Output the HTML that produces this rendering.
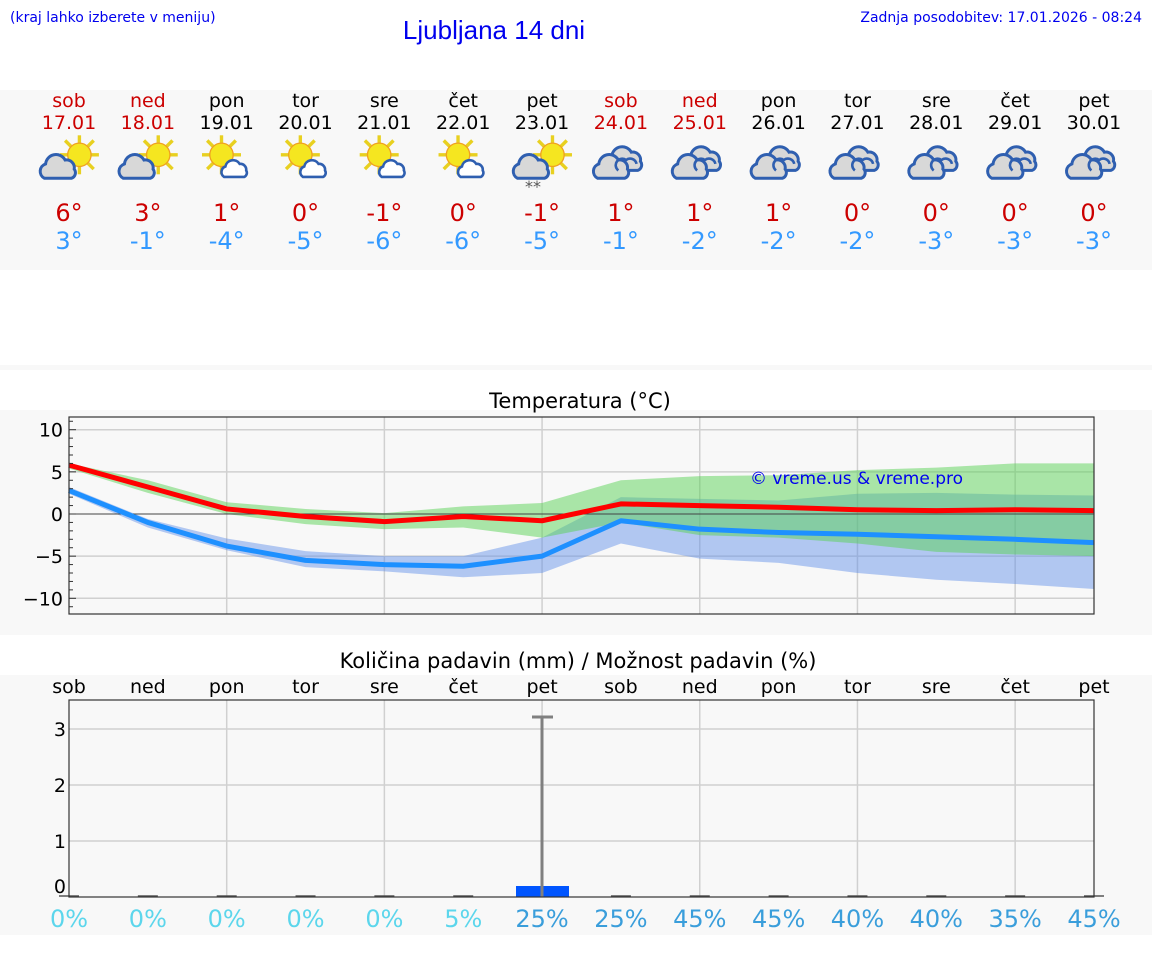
<!DOCTYPE html>
<html><head><meta charset="utf-8"><style>
body{margin:0;background:#fff;width:1152px;height:975px;overflow:hidden;font-family:"Liberation Sans","DejaVu Sans",sans-serif}
svg text{font-family:"DejaVu Sans","Liberation Sans",sans-serif}
</style></head><body>
<svg id="s" width="1152" height="975" xmlns="http://www.w3.org/2000/svg">
<defs>
<g id="cl"><path d="M-14,9 a6,6 0 0 1 1,-11 a8,8 0 0 1 15,-3 a6,6 0 0 1 7,7 a4.5,4.5 0 0 1 -2,7 z" fill="#d8d8d8" stroke="#2f5fb0" stroke-width="2.3"/></g>
<g id="clw"><path d="M-10,6 a4.5,4.5 0 0 1 1,-8 a6,6 0 0 1 11,-2 a4.5,4.5 0 0 1 5,5 a3.5,3.5 0 0 1 -1.5,5 z" fill="#fff" stroke="#2f5fb0" stroke-width="2"/></g>
<g id="sun"><g stroke="#e8d020" stroke-width="2.6"><line x1="0" y1="-15" x2="0" y2="15"/><line x1="-15" y1="0" x2="15" y2="0"/><line x1="-11" y1="-11" x2="11" y2="11"/><line x1="-11" y1="11" x2="11" y2="-11"/></g><circle r="9" fill="#f5e620" stroke="#f0a020" stroke-width="1"/></g>
<g id="iA"><use href="#sun" x="8" y="-4"/><use href="#cl" x="-5" y="5"/></g>
<g id="iB"><use href="#sun" x="-4" y="-4"/><use href="#clw" x="8" y="7"/></g>
<g id="iC"><use href="#cl" x="6" y="-1"/><use href="#cl" x="-4" y="5"/><path d="M-2,8 a5,5 0 0 1 6,-8 a5,5 0 0 1 8,3" fill="none" stroke="#2f5fb0" stroke-width="2"/></g>
</defs>
<text x="10" y="22" font-size="14" fill="#0000ee" font-family="Liberation Sans">(kraj lahko izberete v meniju)</text>
<text x="494" y="39" font-size="26" fill="#0000ee" text-anchor="middle" style="font-family:'Liberation Sans'">Ljubljana 14 dni</text>
<text x="1142" y="22" font-size="14" fill="#0000ee" text-anchor="end" font-family="Liberation Sans">Zadnja posodobitev: 17.01.2026 - 08:24</text>
<rect x="0" y="90" width="1152" height="180" fill="#f8f8f8"/>
<rect x="0" y="365" width="1152" height="5" fill="#f8f8f8"/>
<rect x="0" y="410" width="1152" height="225" fill="#f8f8f8"/>
<rect x="0" y="675" width="1152" height="260" fill="#f8f8f8"/>
<g id="hdr"></g>
<text x="580" y="408" font-size="21" text-anchor="middle">Temperatura (°C)</text>
<text x="578" y="668" font-size="21" text-anchor="middle">Količina padavin (mm) / Možnost padavin (%)</text>
<g id="tc"></g>
<g id="pc"></g>
</svg>
<script>
var X=[];for(var i=0;i<14;i++)X.push(69+i*1025/13);
var days=["sob","ned","pon","tor","sre","čet","pet","sob","ned","pon","tor","sre","čet","pet"];
var dates=["17.01","18.01","19.01","20.01","21.01","22.01","23.01","24.01","25.01","26.01","27.01","28.01","29.01","30.01"];
var red=[1,1,0,0,0,0,0,1,1,0,0,0,0,0];
var mx=["6°","3°","1°","0°","-1°","0°","-1°","1°","1°","1°","0°","0°","0°","0°"];
var mn=["3°","-1°","-4°","-5°","-6°","-6°","-5°","-1°","-2°","-2°","-2°","-3°","-3°","-3°"];
var ic=["iA","iA","iB","iB","iB","iB","iA","iC","iC","iC","iC","iC","iC","iC"];
var h="";
for(i=0;i<14;i++){var c=red[i]?"#cc0000":"#000";
h+='<text x="'+X[i]+'" y="107" font-size="19" text-anchor="middle" fill="'+c+'">'+days[i]+'</text>';
h+='<text x="'+X[i]+'" y="129" font-size="19" text-anchor="middle" fill="'+c+'">'+dates[i]+'</text>';
h+='<g transform="translate('+X[i]+',160) scale(1.3)"><use href="#'+ic[i]+'"/></g>';
h+='<text x="'+X[i]+'" y="221" font-size="24" text-anchor="middle" fill="#cc0000">'+mx[i]+'</text>';
h+='<text x="'+X[i]+'" y="249" font-size="24" text-anchor="middle" fill="#3399ff">'+mn[i]+'</text>';}
h+='<text x="533" y="192" font-size="16" fill="#555" text-anchor="middle">**</text>';
document.getElementById("hdr").innerHTML=h;
function Y(v){return 514-8.43*v}
function poly(u,l,col){var p=[];for(var i=0;i<14;i++)p.push(X[i]+","+Y(u[i]));for(i=13;i>=0;i--)p.push(X[i]+","+Y(l[i]));return '<polygon points="'+p.join(" ")+'" fill="'+col+'"/>'}
function line(a,col){var p=[];for(var i=0;i<14;i++)p.push(X[i]+","+Y(a[i]));return '<polyline points="'+p.join(" ")+'" fill="none" stroke="'+col+'" stroke-width="5" stroke-linejoin="round"/>'}
var t='<rect x="69" y="417" width="1025" height="197" fill="#f8f8f8"/>';
[-10,-5,5,10].forEach(function(v){t+='<line x1="69" x2="1094" y1="'+Y(v)+'" y2="'+Y(v)+'" stroke="#d0d0d0" stroke-width="1.5"/>'});
[2,4,6,8,10,12].forEach(function(k){t+='<line x1="'+X[k]+'" x2="'+X[k]+'" y1="417" y2="614" stroke="#d0d0d0" stroke-width="1.5"/>'});
t+=poly([3.2,-0.6,-2.9,-4.4,-5,-5,-2.8,2,1.8,1.6,2.4,2.5,2.3,2.2],[2.4,-1.6,-4.3,-6.3,-6.8,-7.5,-7,-3.5,-5.3,-5.8,-7,-7.8,-8.3,-8.9],"rgba(90,140,232,0.45)");
t+=poly([6,4,1.4,0.6,0.1,0.9,1.3,4,4.5,4.6,5.2,5.5,6,6],[5.4,2.5,0,-1.2,-1.8,-1.6,-2.8,-1,-2.5,-2.8,-3.5,-4.5,-4.8,-5],"rgba(90,210,85,0.5)");
t+='<line x1="69" x2="1094" y1="514" y2="514" stroke="#444" stroke-width="1"/>';
t+=line([5.8,3.2,0.6,-0.3,-0.9,-0.3,-0.8,1.2,1.0,0.8,0.5,0.4,0.5,0.4],"#ff0000");
t+=line([2.8,-1,-3.8,-5.5,-6,-6.2,-5,-0.8,-1.8,-2.2,-2.4,-2.7,-3,-3.4],"#1e90ff");
t+='<rect x="69" y="417" width="1025" height="197" fill="none" stroke="#333" stroke-width="1.2"/>';
for(var v=-11;v<=11;v++)t+='<line x1="69" x2="'+(v%5==0?76:73)+'" y1="'+Y(v)+'" y2="'+Y(v)+'" stroke="#333" stroke-width="1"/>';
[[10,"10"],[5,"5"],[0,"0"],[-5,"−5"],[-10,"−10"]].forEach(function(a){t+='<text x="63" y="'+(Y(a[0])+7)+'" font-size="19" text-anchor="end">'+a[1]+'</text>'});
t+='<text x="750" y="484" font-size="17" fill="#0000ee" font-family="Liberation Sans">© vreme.us &amp; vreme.pro</text>';
document.getElementById("tc").innerHTML=t;
function P(v){return 897-56*v}
var q='<rect x="69" y="700" width="1025" height="197" fill="#f8f8f8"/>';
[1,2,3].forEach(function(v){q+='<line x1="69" x2="1094" y1="'+P(v)+'" y2="'+P(v)+'" stroke="#d0d0d0" stroke-width="1.5"/>'});
[2,4,6,8,10,12].forEach(function(k){q+='<line x1="'+X[k]+'" x2="'+X[k]+'" y1="700" y2="897" stroke="#d0d0d0" stroke-width="1.5"/>'});
for(i=0;i<14;i++){if(i!=6)q+='<line x1="'+(X[i]-10)+'" x2="'+(X[i]+10)+'" y1="896" y2="896" stroke="#555" stroke-width="1.5"/>';}
q+='<rect x="516" y="886" width="53" height="11" fill="#0055ff"/>';
q+='<line x1="542" x2="542" y1="717" y2="897" stroke="#808080" stroke-width="3"/><line x1="532" x2="553" y1="717" y2="717" stroke="#808080" stroke-width="3"/>';
q+='<rect x="69" y="700" width="1025" height="197" fill="none" stroke="#333" stroke-width="1.2"/>';
[[3,"3"],[2,"2"],[1,"1"]].forEach(function(a){q+='<text x="66" y="'+(P(a[0])+7)+'" font-size="19" text-anchor="end">'+a[1]+'</text>'});
q+='<text x="66" y="893" font-size="19" text-anchor="end">0</text>';
var pc=["0%","0%","0%","0%","0%","5%","25%","25%","45%","45%","40%","40%","35%","45%"];
for(i=0;i<14;i++){q+='<text x="'+X[i]+'" y="693" font-size="19" text-anchor="middle">'+days[i]+'</text>';
q+='<text x="'+X[i]+'" y="927" font-size="24" text-anchor="middle" fill="'+(i<6?"#5cd6ec":"#3a9edb")+'">'+pc[i]+'</text>';}
document.getElementById("pc").innerHTML=q;
</script>
</body></html>
